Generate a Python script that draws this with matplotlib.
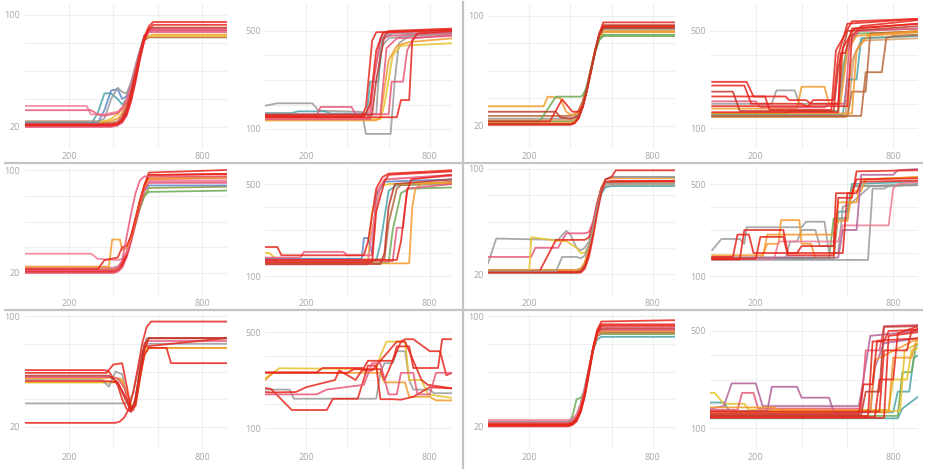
import matplotlib
matplotlib.use("Agg")
import matplotlib.pyplot as plt
from matplotlib.lines import Line2D
from matplotlib.ticker import FixedLocator, FuncFormatter

plt.rcParams['font.family'] = ['Open Sans', 'DejaVu Sans']

# ---------------- colours (style) ----------------
RED = '#e8261c'; PINK = '#e8577a'; ROSE = '#f07c95'; ORANGE = '#f39a2b'
YELLOW = '#e6c22a'; TEAL = '#4aa3a8'; BLUE = '#5b86c5'; GRAY = '#9a9a9a'
GREEN = '#6aaa55'; BROWN = '#b8663a'; DRED = '#c0392b'; MAUVE = '#b0609a'
OLIVE = '#8a9a3a'; TAN = '#d7a070'

# ---------------- data ----------------
# Row 1, col 1 (20..100)
S11 = [0, 280, 300, 330, 360, 390, 420, 440, 460, 480, 500, 520, 540, 560, 580, 910]
P11_X = [S11] * 14
P11_Y = [
    [24, 24, 24, 24, 24, 24.5, 26, 30, 37, 48, 61, 73, 82, 85, 86, 86],
    [23, 23, 23, 23, 23, 23, 24, 28, 35, 47, 61, 73, 82, 84, 84, 84],
    [23.5, 23.5, 23.5, 23.5, 24, 26, 29, 33, 39, 49, 62, 74, 83, 85, 85, 85],
    [22, 22, 22, 30, 44, 44, 40, 36, 40, 50, 62, 74, 84, 88, 88, 88],
    [23, 23, 23, 23, 32, 46, 47, 40, 42, 51, 63, 75, 85, 89, 89, 89],
    [24, 24, 24, 24, 26, 40, 48, 45, 44, 52, 64, 75, 85, 88, 88, 88],
    [35, 35, 29, 29, 29, 30, 31, 34, 40, 50, 62, 74, 84, 88, 89, 89],
    [32, 32, 32, 29, 28, 29, 30, 33, 38, 48, 61, 73, 84, 88, 88, 88],
    [22, 22, 22, 22, 22, 22, 23, 27, 34, 46, 60, 74, 85, 88, 88, 88],
    [20, 20, 20, 20, 20, 20, 21, 24, 30, 41, 55, 70, 83, 89, 90, 90],
    [21.5, 21.5, 21.5, 21.5, 21.5, 21.5, 22.5, 26, 33, 45, 59, 73, 85, 90, 91, 91],
    [21, 21, 21, 21, 21, 21, 21.5, 23, 28, 38, 52, 68, 82, 88, 89, 89],
    [22, 22, 22, 22, 22, 22, 22.5, 24, 29, 39, 53, 69, 82, 90, 93, 93],
    [21, 21, 21, 21, 21, 21, 22, 25, 31, 42, 56, 71, 84, 92, 95, 95],
]
P11_C = [ORANGE, BROWN, YELLOW, TEAL, BLUE, GRAY, ROSE, PINK, ROSE, PINK, DRED, PINK, RED, RED]

# Row 1, col 2 (100..500)
P12_X = [
    [0, 60, 230, 260, 470, 490, 610, 630, 650, 700, 910],
    [0, 130, 160, 290, 320, 495, 510, 550, 570, 620, 910],
    [0, 560, 580, 620, 660, 910],
    [0, 540, 560, 600, 640, 700, 910],
    [0, 540, 560, 600, 700, 910],
    [0, 250, 270, 420, 440, 560, 590, 640, 910],
    [0, 600, 615, 670, 690, 720, 910],
    [0, 500, 520, 560, 580, 910],
    [0, 510, 530, 560, 600, 910],
    [0, 520, 540, 580, 600, 910],
    [0, 640, 660, 700, 715, 740, 910],
    [0, 470, 490, 520, 540, 910],
    [0, 480, 510, 540, 570, 600, 910],
]
P12_Y = [
    [195, 205, 205, 175, 170, 80, 80, 300, 450, 480, 490],
    [165, 165, 172, 172, 163, 163, 293, 293, 470, 490, 495],
    [140, 140, 200, 400, 440, 450],
    [135, 135, 150, 380, 440, 455, 470],
    [160, 160, 430, 470, 480, 490],
    [155, 155, 190, 190, 160, 160, 430, 470, 480],
    [160, 160, 293, 293, 420, 470, 485],
    [145, 145, 250, 470, 490, 500],
    [140, 140, 320, 460, 480, 495],
    [158, 158, 300, 480, 495, 505],
    [148, 148, 218, 218, 460, 490, 500],
    [152, 152, 190, 460, 495, 505],
    [150, 150, 200, 420, 490, 500, 510],
]
P12_C = [GRAY, TEAL, YELLOW, ORANGE, GRAY, PINK, PINK, ROSE, PINK, DRED, RED, RED, RED]

# Row 1, col 3 (20..100)
S13 = [0, 400, 420, 440, 460, 480, 500, 520, 540, 560, 910]
P13_X = [S13] * 8 + [
    [0, 270, 290, 350, 380, 400, 420, 440, 460, 480, 500, 520, 540, 560, 910],
    [0, 250, 330, 450, 460, 480, 500, 520, 540, 560, 910],
    [0, 300, 360, 410, 440, 460, 480, 500, 520, 540, 560, 910],
    [0, 330, 350, 400, 440, 460, 480, 500, 520, 540, 560, 910],
]
P13_Y = [
    [23, 23, 24, 28, 36, 47, 60, 73, 82, 85, 85],
    [22, 22, 23, 27, 35, 47, 61, 75, 85, 89, 89],
    [25, 25, 26, 29, 37, 48, 61, 74, 85, 90, 90],
    [24, 24, 25, 28, 36, 47, 61, 74, 85, 88, 88],
    [27, 27, 28, 31, 38, 49, 62, 75, 86, 91, 91],
    [21, 21, 22, 26, 34, 46, 60, 74, 86, 92, 92],
    [21, 21, 22, 26, 34, 46, 60, 74, 86, 93, 93],
    [20.5, 20.5, 21.5, 25, 33, 45, 59, 74, 87, 95, 95],
    [34, 34, 41, 40, 30, 28, 28, 30, 36, 47, 61, 74, 84, 88, 88],
    [23, 23, 41, 41, 42, 48, 61, 74, 83, 86, 86],
    [23, 23, 39, 30, 30, 35, 46, 60, 74, 86, 92, 92],
    [30, 30, 26, 25, 27, 34, 46, 60, 74, 86, 91, 91],
]
P13_C = [GREEN, ORANGE, GRAY, TAN, BROWN, BROWN, DRED, RED, ORANGE, GREEN, RED, DRED]

# Row 1, col 4 (100..500)
P14_X = [
    [10, 600, 630, 670, 910],
    [10, 590, 620, 660, 910],
    [10, 330, 350, 560, 580, 610, 650, 910],
    [10, 580, 600, 640, 660, 910],
    [10, 660, 680, 750, 770, 800, 910],
    [10, 600, 620, 680, 700, 910],
    [10, 270, 290, 370, 390, 560, 600, 650, 910],
    [10, 380, 400, 500, 520, 570, 600, 640, 910],
    [10, 620, 640, 690, 910],
    [10, 200, 220, 500, 520, 590, 610, 650, 910],
    [10, 100, 130, 540, 560, 600, 910],
    [10, 160, 190, 330, 345, 420, 440, 560, 580, 630, 910],
    [10, 150, 180, 400, 420, 600, 620, 660, 910],
    [10, 560, 570, 590, 620, 910],
    [10, 430, 450, 540, 560, 600, 910],
    [10, 240, 260, 530, 550, 580, 620, 910],
]
P14_Y = [
    [150, 150, 400, 470, 480],
    [145, 145, 380, 460, 470],
    [160, 160, 170, 170, 350, 480, 490, 495],
    [155, 155, 300, 300, 470, 480],
    [150, 150, 330, 330, 470, 480, 485],
    [148, 148, 250, 250, 490, 500],
    [200, 200, 255, 255, 200, 200, 430, 500, 510],
    [180, 180, 270, 270, 200, 200, 420, 480, 500],
    [160, 160, 420, 480, 495],
    [210, 210, 185, 185, 200, 200, 460, 500, 510],
    [250, 250, 170, 170, 350, 500, 520],
    [290, 290, 230, 230, 215, 215, 200, 200, 430, 510, 530],
    [275, 275, 200, 200, 190, 190, 480, 520, 545],
    [165, 165, 409, 409, 510, 530],
    [190, 190, 215, 215, 400, 530, 550],
    [230, 230, 175, 175, 420, 470, 540, 550],
]
P14_C = [TAN, TAN, GREEN, TEAL, BROWN, BROWN, GRAY, ORANGE, ORANGE, PINK, DRED, RED, RED, RED, RED, RED]

# Row 2, col 1 (20..100)
S21 = [0, 400, 420, 440, 460, 480, 500, 520, 540, 560, 910]
P21_X = [S21] * 9 + [
    [0, 300, 330, 420, 440, 460, 480, 500, 520, 540, 560, 910],
    [0, 380, 395, 430, 440, 460, 480, 500, 520, 540, 560, 910],
    [0, 330, 360, 420, 440, 460, 480, 500, 520, 540, 560, 910],
    [0, 420, 440, 460, 480, 500, 520, 540, 910],
]
P21_Y = [
    [22, 22, 23, 27, 35, 46, 59, 71, 80, 83, 84],
    [23, 23, 24, 28, 35, 46, 58, 70, 80, 86, 87],
    [24, 24, 25, 28, 36, 48, 61, 74, 84, 88, 88],
    [23, 23, 24, 28, 36, 48, 62, 76, 87, 94, 95],
    [24, 24, 25, 29, 37, 49, 63, 76, 86, 91, 91],
    [20, 20, 21, 24, 32, 44, 58, 72, 84, 90, 90],
    [21.5, 21.5, 22.5, 26, 34, 46, 60, 74, 86, 93, 94],
    [22, 22, 23, 27, 35, 47, 61, 76, 88, 96, 97],
    [21, 21, 22, 26, 34, 46, 60, 75, 88, 98, 100],
    [35, 35, 31, 30, 31, 36, 47, 61, 75, 87, 92, 92],
    [25, 25, 46, 46, 38, 40, 48, 62, 76, 87, 93, 94],
    [23, 23, 30, 32, 40, 41, 49, 62, 76, 88, 96, 97],
    [22, 22, 30, 48, 66, 82, 92, 95, 95],
]
P21_C = [GREEN, OLIVE, BLUE, ORANGE, ROSE, PINK, PINK, RED, RED, ROSE, ORANGE, RED, PINK]

# Row 2, col 2 (100..500)
P22_X = [
    [0, 600, 620, 660, 700, 910],
    [0, 540, 560, 600, 640, 910],
    [0, 580, 600, 640, 660, 910],
    [0, 20, 60, 500, 520, 560, 600, 910],
    [0, 700, 715, 730, 760, 910],
    [0, 470, 480, 500, 520, 540, 580, 910],
    [0, 170, 190, 380, 400, 520, 540, 580, 910],
    [0, 500, 520, 560, 580, 910],
    [0, 620, 640, 670, 690, 910],
    [0, 560, 580, 600, 630, 910],
    [0, 520, 540, 580, 600, 910],
    [0, 640, 660, 690, 710, 910],
    [0, 60, 80, 480, 500, 540, 570, 600, 910],
]
P22_Y = [
    [158, 158, 300, 460, 480, 485],
    [168, 168, 240, 470, 495, 500],
    [172, 172, 330, 480, 495, 510],
    [200, 200, 170, 170, 380, 490, 500, 505],
    [155, 155, 400, 480, 500, 505],
    [175, 175, 265, 265, 200, 450, 510, 520],
    [180, 180, 205, 205, 190, 190, 460, 520, 540],
    [150, 150, 300, 490, 520, 535],
    [165, 165, 310, 310, 480, 500],
    [152, 152, 200, 400, 500, 520],
    [160, 160, 380, 510, 540, 555],
    [170, 170, 250, 470, 520, 540],
    [226, 226, 190, 190, 250, 480, 530, 545, 560],
]
P22_C = [GREEN, TEAL, BROWN, YELLOW, ORANGE, BLUE, PINK, ROSE, PINK, DRED, RED, RED, RED]

# Row 2, col 3 (20..100)
S23 = [0, 430, 450, 470, 490, 510, 530, 550, 570, 600, 910]
P23_X = [S23] * 7 + [
    [0, 40, 340, 380, 400, 430, 450, 470, 490, 510, 530, 550, 570, 600, 910],
    [0, 210, 230, 340, 380, 470, 490, 510, 530, 550, 570, 910],
    [0, 200, 210, 350, 380, 430, 450, 470, 490, 510, 530, 550, 570, 910],
    [0, 250, 330, 470, 490, 510, 530, 550, 570, 910],
    [0, 330, 360, 430, 450, 470, 490, 510, 530, 550, 570, 910],
    [0, 450, 470, 490, 510, 530, 550, 570, 600, 620, 910],
]
P23_Y = [
    [22, 22, 23, 27, 38, 55, 72, 84, 89, 90, 90],
    [21, 21, 22, 26, 36, 52, 69, 81, 86, 87, 87],
    [22.5, 22.5, 23, 27, 37, 54, 71, 83, 87, 88, 88],
    [23, 23, 24, 28, 38, 55, 72, 84, 89, 90, 90],
    [22, 22, 23, 28, 39, 56, 73, 85, 92, 94, 94],
    [23, 23, 24, 29, 40, 57, 74, 86, 92, 93, 93],
    [21.5, 21.5, 22, 26, 36, 53, 71, 84, 90, 91, 91],
    [28, 47, 46, 53, 50, 40, 38, 40, 45, 57, 73, 85, 92, 94, 94],
    [33, 33, 40, 40, 51, 51, 52, 60, 74, 85, 89, 90],
    [22, 22, 48, 45, 45, 40, 36, 36, 42, 56, 72, 84, 89, 89],
    [22, 22, 46, 46, 48, 58, 74, 85, 90, 91],
    [22, 22, 33, 33, 32, 34, 42, 56, 72, 84, 89, 89],
    [21, 21, 24, 33, 48, 66, 82, 92, 94, 99, 99],
]
P23_C = [BLUE, TEAL, GRAY, BROWN, GRAY, ORANGE, RED, GRAY, PINK, YELLOW, RED, GRAY, RED]

# Row 2, col 4 (100..500)
P24_X = [
    [10, 540, 560, 600, 620, 910],
    [10, 520, 540, 600, 620, 910],
    [10, 690, 710, 760, 780, 910],
    [10, 50, 130, 150, 160, 400, 420, 500, 520, 560, 580, 620, 700, 910],
    [10, 330, 350, 380, 400, 460, 480, 540, 560, 600, 620, 910],
    [10, 230, 250, 300, 310, 390, 400, 440, 460, 540, 560, 640, 660, 910],
    [10, 230, 250, 540, 560, 600, 620, 660, 680, 910],
    [10, 280, 300, 560, 580, 780, 800, 820, 910],
    [10, 560, 580, 640, 660, 800, 820, 910],
    [10, 130, 150, 320, 340, 380, 400, 540, 550, 620, 640, 910],
    [10, 200, 220, 320, 340, 540, 560, 620, 640, 910],
    [10, 100, 120, 170, 190, 580, 600, 640, 660, 910],
]
P24_Y = [
    [175, 175, 380, 380, 500, 510],
    [180, 180, 350, 350, 490, 495],
    [170, 170, 480, 480, 490, 500],
    [213, 261, 261, 240, 312, 312, 336, 336, 200, 200, 400, 420, 490, 500],
    [178, 178, 250, 250, 300, 300, 230, 230, 350, 350, 490, 495],
    [190, 190, 240, 240, 343, 343, 240, 240, 180, 180, 420, 420, 520, 530],
    [180, 180, 280, 280, 340, 340, 470, 470, 520, 530],
    [175, 175, 250, 250, 320, 320, 480, 500, 510],
    [180, 180, 300, 300, 540, 540, 560, 565],
    [172, 172, 300, 300, 200, 200, 230, 230, 460, 460, 520, 525],
    [175, 175, 270, 270, 190, 190, 440, 440, 555, 560],
    [183, 183, 280, 280, 200, 200, 460, 460, 510, 515],
]
P24_C = [TEAL, GREEN, GRAY, GRAY, GRAY, ORANGE, ORANGE, ROSE, MAUVE, RED, RED, RED]

# Row 3, col 1 (20..100)
P31_X = [
    [0, 450, 470, 490, 510, 530, 550, 910],
    [0, 400, 430, 460, 480, 500, 520, 540, 560, 910],
    [0, 350, 380, 410, 440, 470, 490, 510, 530, 550, 910],
    [0, 360, 400, 440, 470, 490, 510, 530, 550, 640, 910],
    [0, 390, 420, 450, 470, 490, 510, 530, 550, 910],
    [0, 360, 380, 420, 440, 460, 480, 500, 520, 540, 910],
    [0, 370, 400, 440, 460, 480, 500, 520, 540, 560, 910],
    [0, 380, 420, 460, 480, 500, 520, 540, 560, 910],
    [0, 380, 420, 460, 480, 500, 520, 540, 560, 640, 660, 910],
    [0, 410, 430, 450, 470, 490, 510, 530, 550, 570, 910],
]
P31_Y = [
    [37, 37, 38, 45, 60, 74, 80, 80],
    [52, 52, 55, 45, 34, 36, 55, 72, 77, 77],
    [54, 54, 49, 60, 58, 36, 33, 50, 70, 84, 84],
    [55, 55, 56, 54, 40, 32, 45, 65, 77, 77, 77],
    [56, 56, 55, 48, 36, 32, 50, 72, 82, 82],
    [61, 61, 60, 50, 40, 33, 31, 40, 60, 78, 84],
    [59, 59, 65, 66, 50, 33, 38, 58, 76, 84, 84],
    [57, 57, 52, 38, 31, 40, 62, 80, 84, 84],
    [53, 53, 52, 40, 33, 35, 55, 72, 77, 77, 66, 66],
    [23, 23, 24, 27, 33, 45, 62, 80, 92, 96, 96],
]
P31_C = [GRAY, YELLOW, GRAY, ORANGE, PINK, RED, RED, DRED, RED, RED]

# Row 3, col 2 (100..500)
P32_X = [
    [0, 120, 140, 540, 560, 580, 620, 640, 680, 700, 720, 800, 820, 910],
    [0, 70, 540, 560, 590, 680, 700, 760, 790, 910],
    [0, 40, 560, 580, 680, 700, 800, 830, 910],
    [0, 30, 130, 300, 330, 450, 500, 540, 560, 620, 660, 720, 800, 910],
    [0, 30, 150, 200, 340, 360, 440, 470, 520, 560, 640, 680, 760, 790, 910],
    [0, 400, 430, 560, 580, 620, 660, 680, 720, 800, 850, 880, 910],
    [0, 250, 280, 480, 500, 620, 640, 700, 720, 840, 860, 910],
    [0, 250, 300, 480, 520, 560, 600, 640, 660, 720, 740, 800, 830, 910],
]
P32_Y = [
    [260, 260, 222, 222, 330, 370, 370, 420, 420, 300, 260, 260, 245, 245],
    [307, 349, 345, 400, 460, 460, 300, 300, 240, 225],
    [300, 330, 330, 290, 290, 230, 230, 215, 215],
    [267, 262, 175, 175, 222, 222, 360, 360, 220, 220, 218, 230, 270, 265],
    [250, 248, 250, 270, 300, 340, 300, 340, 340, 380, 460, 460, 300, 280, 265],
    [330, 330, 345, 345, 300, 380, 460, 470, 470, 420, 420, 320, 330],
    [332, 332, 350, 350, 380, 380, 440, 440, 350, 350, 470, 470],
    [240, 240, 260, 280, 370, 370, 240, 240, 330, 330, 240, 240, 330, 330],
]
P32_C = [GRAY, YELLOW, ORANGE, RED, RED, RED, RED, PINK]

# Row 3, col 3 (20..100)
S33 = [0, 390, 410, 430, 450, 470, 490, 510, 530, 550, 910]
P33_X = [S33] * 11
P33_Y = [
    [23.5, 23.5, 24.5, 28, 36, 48, 62, 75, 83, 85, 85],
    [22, 22, 28, 40, 41, 46, 60, 76, 86, 87, 87],
    [24, 24, 25, 29, 37, 49, 63, 76, 86, 89, 89],
    [22.5, 22.5, 23.5, 27, 35, 47, 62, 76, 85, 88, 88],
    [22, 22, 23, 26, 33, 45, 60, 75, 86, 89, 89],
    [23, 23, 24, 27, 34, 46, 62, 77, 87, 90, 90],
    [25, 25, 26, 29, 36, 47, 61, 75, 86, 92, 92],
    [21.5, 21.5, 22.5, 25, 31, 42, 58, 75, 88, 91, 91],
    [22, 22, 23, 26, 33, 45, 61, 77, 89, 93, 93],
    [20.5, 20.5, 21.5, 24, 31, 43, 59, 76, 88, 94, 94],
    [21, 21, 22, 25, 32, 44, 60, 77, 90, 96, 97],
]
P33_C = [TEAL, GREEN, GRAY, BROWN, ORANGE, PINK, ROSE, DRED, RED, RED, RED]

# Row 3, col 4 (100..500)
P34_X = [
    [0, 820, 840, 910],
    [0, 60, 90, 800, 820, 870, 890, 910],
    [0, 820, 840, 880, 900, 910],
    [0, 20, 60, 150, 170, 780, 800, 860, 880, 910],
    [0, 830, 850, 910],
    [0, 780, 800, 880, 900, 910],
    [0, 60, 95, 200, 230, 650, 670, 700, 910],
    [0, 250, 270, 380, 400, 520, 540, 700, 720, 760, 910],
    [0, 120, 140, 190, 210, 660, 680, 740, 760, 910],
    [0, 280, 300, 450, 470, 700, 720, 910],
    [0, 650, 670, 710, 730, 910],
    [0, 690, 710, 760, 780, 910],
    [0, 720, 740, 800, 820, 910],
    [0, 660, 680, 740, 760, 910],
    [0, 740, 760, 860, 880, 910],
    [0, 760, 780, 910],
]
P34_Y = [
    [140, 140, 180, 230],
    [205, 205, 165, 165, 250, 250, 390, 400],
    [150, 150, 330, 330, 440, 445],
    [245, 245, 200, 200, 175, 175, 300, 300, 420, 430],
    [170, 170, 420, 450],
    [165, 165, 390, 390, 460, 460],
    [180, 190, 284, 284, 190, 190, 300, 480, 500],
    [170, 170, 270, 270, 225, 225, 165, 165, 350, 450, 470],
    [175, 175, 245, 245, 180, 180, 420, 420, 520, 525],
    [185, 185, 175, 175, 170, 170, 380, 470],
    [160, 160, 280, 280, 460, 470],
    [150, 150, 457, 457, 500, 505],
    [145, 145, 300, 300, 490, 520],
    [155, 155, 250, 250, 517, 520],
    [168, 168, 420, 420, 500, 510],
    [142, 142, 480, 495],
]
P34_C = [TEAL, TEAL, GREEN, YELLOW, YELLOW, ORANGE, MAUVE, MAUVE, PINK, ORANGE, RED, RED, RED, DRED, RED, RED]

# tick labels
X_LABELS = {200: '200', 800: '800'}
PCT_LABELS = {20: '20', 100: '100'}
CNT_LABELS = {100: '100', 500: '500'}

# ---------------- layout ----------------
W, H = 930, 472
fig = plt.figure(figsize=(W / 100, H / 100), dpi=100)
fig.patch.set_facecolor('white')

COLS = [(24.5, 0.222), (265.0, 0.206), (488.0, 0.206), (710.0, 0.229)]  # x0 px, px per unit
ROWS = [(4, 148), (167, 295), (313, 449)]
# pixel of (hi, lo) tick values per panel
TICKPX = [
    [(15, 127), (31, 129), (15.5, 125.5), (31, 128)],
    [(170, 273), (184, 276), (169, 274), (184, 276)],
    [(316, 427), (332, 428), (316, 427), (331, 428)],
]
XMAX = 910

PANELS = [
    [(P11_X, P11_Y, P11_C), (P12_X, P12_Y, P12_C), (P13_X, P13_Y, P13_C), (P14_X, P14_Y, P14_C)],
    [(P21_X, P21_Y, P21_C), (P22_X, P22_Y, P22_C), (P23_X, P23_Y, P23_C), (P24_X, P24_Y, P24_C)],
    [(P31_X, P31_Y, P31_C), (P32_X, P32_Y, P32_C), (P33_X, P33_Y, P33_C), (P34_X, P34_Y, P34_C)],
]

TICK_COLOR = '#a8a8a8'
GRID_COLOR = '#efefef'

for r in range(3):
    top, bot = ROWS[r]
    for c in range(4):
        x0, sx = COLS[c]
        left, right = x0, x0 + XMAX * sx
        ax = fig.add_axes([left / W, 1 - bot / H, (right - left) / W, (bot - top) / H])
        pct = c in (0, 2)
        vhi, vlo = (100, 20) if pct else (500, 100)
        phi, plo = TICKPX[r][c]
        s = (plo - phi) / (vhi - vlo)
        ax.set_ylim(vlo - (bot - plo) / s, vhi + (phi - top) / s)
        ax.set_xlim(0, XMAX)
        xs_l, ys_l, cs = PANELS[r][c]
        for xs, ys, col in zip(xs_l, ys_l, cs):
            ax.plot(xs, ys, color=col, lw=1.3, alpha=0.85, solid_joinstyle='round', zorder=3)
        yt = [20, 40, 60, 80, 100] if pct else [100, 200, 300, 400, 500]
        labs = PCT_LABELS if pct else CNT_LABELS
        ax.yaxis.set_major_locator(FixedLocator(yt))
        ax.yaxis.set_major_formatter(FuncFormatter(lambda v, p, labs=labs: labs.get(int(round(v)), '')))
        ax.xaxis.set_major_locator(FixedLocator([200, 400, 600, 800]))
        ax.xaxis.set_major_formatter(FuncFormatter(lambda v, p: X_LABELS.get(int(round(v)), '')))
        ax.grid(True, color=GRID_COLOR, lw=0.8, zorder=0)
        ax.set_axisbelow(True)
        ax.tick_params(length=0, labelsize=6.5, colors=TICK_COLOR, pad=3)
        for sp in ax.spines.values():
            sp.set_visible(False)
        ax.set_facecolor('none')

# separators
SEP = '#c4c4c4'
def fline(x1, y1, x2, y2):
    fig.add_artist(Line2D([x1 / W, x2 / W], [1 - y1 / H, 1 - y2 / H], color=SEP, lw=1.6,
                          transform=fig.transFigure))
fline(463, 2, 463, 468)
fline(5, 163, 922, 163)
fline(5, 310, 922, 310)

fig.savefig('out.png', dpi=100, facecolor='white')
